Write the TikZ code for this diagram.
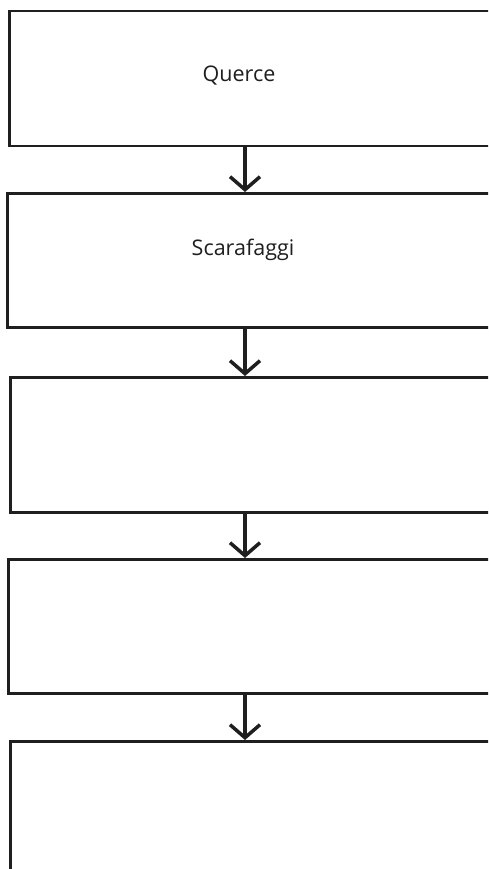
\documentclass[tikz,border=0pt]{standalone}
\usepackage{fontspec}
\setmainfont{Open Sans}
\usetikzlibrary{arrows.meta}
\begin{document}
\begin{tikzpicture}[x=1pt,y=-1pt,
  flowbox/.style={draw=black!88, line width=2.5pt, fill=white, rectangle, inner sep=0pt, minimum width=492pt, anchor=north west},
  lbl/.style={font=\fontsize{21.5}{26}\selectfont, text=black!88, anchor=base, inner sep=0pt},
  arr/.style={draw=black!88, line width=3.5pt, -{Straight Barb[length=13pt,width=30pt,line width=3.5pt]}}]
\useasboundingbox (0,0) rectangle (488,869);
\clip (0,0) rectangle (488,869);
\node[flowbox, minimum height=135pt] (b1) at (8,10) {};
\node[flowbox, minimum height=134pt] (b2) at (6,192) {};
\node[flowbox, minimum height=135pt] (b3) at (9,376) {};
\node[flowbox, minimum height=134pt] (b4) at (7,558) {};
\node[flowbox, minimum height=150pt] (b5) at (9,740) {};
\node[lbl] (t1) at (239,82) {Querce};
\node[lbl] (t2) at (243,255) {Scarafaggi};
\coordinate (ax) at (245,0);
\draw[arr] (b1.south -| ax) -- (b2.north -| ax);
\draw[arr] (b2.south -| ax) -- (b3.north -| ax);
\draw[arr] (b3.south -| ax) -- (b4.north -| ax);
\draw[arr] (b4.south -| ax) -- (b5.north -| ax);
\end{tikzpicture}
\end{document}
